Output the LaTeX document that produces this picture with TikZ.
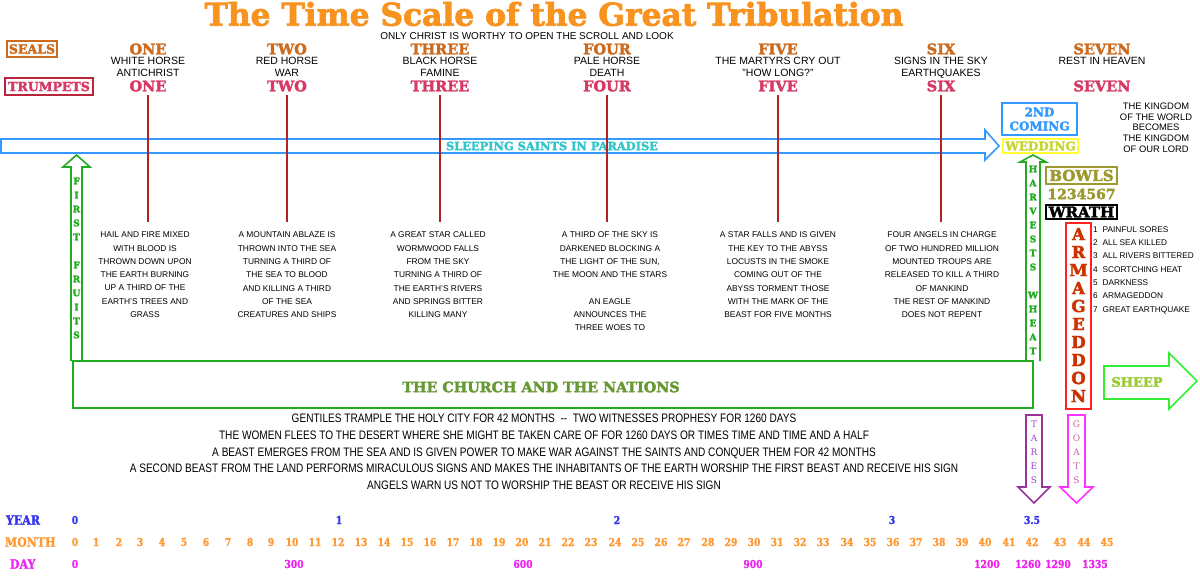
\documentclass[tikz,border=0pt]{standalone}
\usepackage{fontspec}
\setmainfont{Liberation Sans}
\newfontfamily\slabfont{DejaVu Serif Bold}[FakeBold=2.5]
\newfontfamily\slablight{DejaVu Serif}
\newfontfamily\condslab{DejaVu Serif Bold}[FakeStretch=0.85, FakeBold=1.5]
\newfontfamily\narrowfont{Liberation Sans}[FakeStretch=0.82]

\definecolor{titleorange}{HTML}{F7931E}
\definecolor{sealbrown}{HTML}{CC6A1E}
\definecolor{trumpred}{HTML}{D63964}
\definecolor{trumpbox}{HTML}{B8263C}
\definecolor{linered}{HTML}{B22222}
\definecolor{saintsblue}{HTML}{3399FF}
\definecolor{saintstext}{HTML}{33C4CC}
\definecolor{fruitgreen}{HTML}{22AA22}
\definecolor{churchtext}{HTML}{669933}
\definecolor{weddingyellow}{HTML}{FFFF33}
\definecolor{weddingtext}{HTML}{C6D62E}
\definecolor{bowlolive}{HTML}{9C9A2E}
\definecolor{armared}{HTML}{FF2222}
\definecolor{armatext}{HTML}{CC3300}
\definecolor{sheepgreen}{HTML}{33EE33}
\definecolor{sheeptext}{HTML}{99CC33}
\definecolor{taresviolet}{HTML}{993399}
\definecolor{taresletter}{HTML}{9944CC}
\definecolor{goatsmagenta}{HTML}{FF33FF}
\definecolor{goatsletter}{HTML}{CC6699}
\definecolor{yearblue}{HTML}{3333EE}
\definecolor{monthorange}{HTML}{FF9933}
\definecolor{daymagenta}{HTML}{EE22EE}

\tikzset{
  every node/.style={inner sep=0pt, outer sep=0pt},
  slab/.style={font=\slabfont\fontsize{#1}{#1}\selectfont},
  titletext/.style={slab=31.3, text=titleorange},
  sealnum/.style={slab=14.5, text=sealbrown},
  trumpnum/.style={slab=14.5, text=trumpred},
  labelbox/.style={slab=12.5, draw, line width=1.5pt},
  horsetext/.style={font=\fontsize{10.5}{12}\selectfont, align=center, anchor=north},
  woetext/.style={font=\fontsize{8.4}{13.3}\selectfont, align=center, anchor=north},
  redline/.style={draw=linered, line width=1.5pt},
  blockarrow/.style={line width=1.6pt, line join=miter},
  upletter/.style={font=\slabfont\fontsize{9}{9}\selectfont, text=fruitgreen},
  downletter/.style={font=\slablight\fontsize{9}{9}\selectfont},
  armaletter/.style={slab=16.5, text=armatext},
  listtext/.style={font=\fontsize{8.3}{13.3}\selectfont, align=left, anchor=north west},
  beasttext/.style={font=\narrowfont\fontsize{12.3}{16.7}\selectfont, align=center},
  timelabel/.style={font=\condslab\fontsize{13}{13}\selectfont, anchor=west},
  timenum/.style={font=\condslab\fontsize{10.8}{10.8}\selectfont}
}

\begin{document}
\begin{tikzpicture}[x=1pt,y=-1pt]
  \useasboundingbox (0,0) rectangle (1200,576);

  \node[titletext] (title) at (554,14) {The Time Scale of the Great Tribulation};
  \node[font=\fontsize{10}{10}\selectfont] (scroll) at (527,36.5) {ONLY CHRIST IS WORTHY TO OPEN THE SCROLL AND LOOK};

  \node[labelbox, draw=sealbrown, text=sealbrown, minimum width=50pt, minimum height=16pt] (seals) at (32,49) {SEALS};
  \node[labelbox, draw=trumpbox, text=trumpred, minimum width=88pt, minimum height=17pt] (trumpets) at (49,86.5) {TRUMPETS};

  % sleeping saints
  \draw[blockarrow, draw=saintsblue] (1,139) -- (985,139) -- (985,130) -- (999,146)
    -- (985,160) -- (985,153) -- (1,153) -- cycle;
  \node[slab=11.4, text=saintstext] (saints) at (552,146) {SLEEPING SAINTS IN PARADISE};

  % seals and trumpets one to six
  \foreach \x/\num/\desc [count=\i] in {148/ONE/{WHITE HORSE\\ANTICHRIST},
      287/TWO/{RED HORSE\\WAR}, 440/THREE/{BLACK HORSE\\FAMINE},
      607/FOUR/{PALE HORSE\\DEATH}, 778/FIVE/{THE MARTYRS CRY OUT\\"HOW LONG?"},
      941/SIX/{SIGNS IN THE SKY\\EARTHQUAKES}} {
    \node[sealnum] (seal\i) at (\x,49) {\num};
    \node[horsetext] (horse\i) at (\x,57.5) {\desc};
    \node[trumpnum] (trump\i) at (\x,86) {\num};
    \coordinate (foot\i) at (\x,222);
    \draw[redline] ([yshift=-4pt]trump\i.south) -- (foot\i);
  }
  \node[sealnum] (seal7) at (1102,49) {SEVEN};
  \node[horsetext] (horse7) at (1102,57.5) {REST IN HEAVEN};
  \node[trumpnum] (trump7) at (1102,86) {SEVEN};

  % what the trumpets bring
  \node[woetext] (woe1) at (145,232) {HAIL AND FIRE MIXED\\WITH BLOOD IS\\THROWN DOWN UPON\\THE EARTH BURNING\\UP A THIRD OF THE\\EARTH'S TREES AND\\GRASS};
  \node[woetext] (woe2) at (287,232) {A MOUNTAIN ABLAZE IS\\THROWN INTO THE SEA\\TURNING A THIRD OF\\THE SEA TO BLOOD\\AND KILLING A THIRD\\OF THE SEA\\CREATURES AND SHIPS};
  \node[woetext] (woe3) at (438,232) {A GREAT STAR CALLED\\WORMWOOD FALLS\\FROM THE SKY\\TURNING A THIRD OF\\THE EARTH'S RIVERS\\AND SPRINGS BITTER\\KILLING MANY};
  \node[woetext] (woe4) at (610,232) {A THIRD OF THE SKY IS\\DARKENED BLOCKING A\\THE LIGHT OF THE SUN,\\THE MOON AND THE STARS\\[13.3pt]AN EAGLE\\ANNOUNCES THE\\THREE WOES TO};
  \node[woetext] (woe5) at (778,232) {A STAR FALLS AND IS GIVEN\\THE KEY TO THE ABYSS\\LOCUSTS IN THE SMOKE\\COMING OUT OF THE\\ABYSS TORMENT THOSE\\WITH THE MARK OF THE\\BEAST FOR FIVE MONTHS};
  \node[woetext] (woe6) at (942,232) {FOUR ANGELS IN CHARGE\\OF TWO HUNDRED MILLION\\MOUNTED TROUPS ARE\\RELEASED TO KILL A THIRD\\OF MANKIND\\THE REST OF MANKIND\\DOES NOT REPENT};

  % second coming
  \node[slab=12, text=saintsblue, draw=saintsblue, line width=1.5pt, align=center,
    minimum width=75pt, minimum height=32pt] (coming) at (1039.5,119) {2ND\\[2pt]COMING};
  \node[slab=12, text=weddingtext, draw=weddingyellow, line width=1.5pt,
    minimum width=75pt, minimum height=14pt] (wedding) at (1040.5,146) {WEDDING};
  \node[font=\fontsize{9.4}{10.7}\selectfont, align=center] (kingdom) at (1156,127.5)
    {THE KINGDOM\\OF THE WORLD\\BECOMES\\THE KINGDOM\\OF OUR LORD};

  % bowls of wrath
  \node[slab=15, text=bowlolive, draw=bowlolive, line width=1.5pt,
    minimum width=71pt, minimum height=17pt] (bowls) at (1081.5,175.5) {BOWLS};
  \node[slab=14, text=bowlolive] (bowlnums) at (1081.5,194) {1234567};
  \node[slab=15, draw, line width=1.5pt, minimum width=71pt, minimum height=14pt] (wrath) at (1081.5,212) {WRATH};
  \node[listtext] (bowllist) at (1093,226.5) {1\hspace{5pt}PAINFUL SORES\\2\hspace{5pt}ALL SEA KILLED\\3\hspace{5pt}ALL RIVERS BITTERED\\4\hspace{5pt}SCORTCHING HEAT\\5\hspace{5pt}DARKNESS\\6\hspace{5pt}ARMAGEDDON\\7\hspace{5pt}GREAT EARTHQUAKE};

  \node[draw=armared, line width=1.5pt, minimum width=25pt, minimum height=186pt] (armageddon) at (1078.5,316) {};
  \foreach \ch [count=\i from 0] in {A,R,M,A,G,E,D,D,O,N}
    \node[armaletter] (arma\i) at (1078.5,234+18*\i) {\ch};

  % church and harvest
  \node[draw=fruitgreen, line width=2pt, minimum width=960pt, minimum height=47pt] (church) at (553,384.5) {};
  \node[slab=14.3, text=churchtext] (churchname) at (541,387) {THE CHURCH AND THE NATIONS};

  \draw[blockarrow, draw=fruitgreen] (71,361) -- (71,167) -- (63,167) -- (76.5,155)
    -- (90,167) -- (82,167) -- (82,361);
  \foreach \ch [count=\i from 0] in {F,I,R,S,T,{},F,R,U,I,T,S}
    \node[upletter] (fruit\i) at (76.5,181+14*\i) {\ch};

  \draw[blockarrow, draw=fruitgreen] (1026,361) -- (1026,162) -- (1020,162) -- (1033,155)
    -- (1046,162) -- (1040,162) -- (1040,361);
  \foreach \ch [count=\i from 0] in {H,A,R,V,E,S,T,S,{},W,H,E,A,T}
    \node[upletter] (harvest\i) at (1033,169+14*\i) {\ch};

  % sheep and goats
  \draw[blockarrow, draw=sheepgreen] (1104,366) -- (1169,366) -- (1169,353) -- (1197,381)
    -- (1169,409) -- (1169,399) -- (1104,399) -- cycle;
  \node[slab=13, text=sheeptext] (sheep) at (1137,382) {SHEEP};

  \draw[blockarrow, draw=taresviolet] (1026,415) -- (1042,415) -- (1042,487) -- (1050,487)
    -- (1034,503) -- (1018,487) -- (1026,487) -- cycle;
  \foreach \ch [count=\i from 0] in {T,A,R,E,S}
    \node[downletter, text=taresletter] (tares\i) at (1034,424+14*\i) {\ch};

  \draw[blockarrow, draw=goatsmagenta] (1068,415) -- (1085,415) -- (1085,487) -- (1093,487)
    -- (1076.5,503) -- (1060,487) -- (1068,487) -- cycle;
  \foreach \ch [count=\i from 0] in {G,O,A,T,S}
    \node[downletter, text=goatsletter] (goats\i) at (1076.5,424+14*\i) {\ch};

  % the beasts
  \node[beasttext] (beasts) at (544,452) {GENTILES TRAMPLE THE HOLY CITY FOR 42 MONTHS\ \ -{}-\ \ TWO WITNESSES PROPHESY FOR 1260 DAYS\\
    THE WOMEN FLEES TO THE DESERT WHERE SHE MIGHT BE TAKEN CARE OF FOR 1260 DAYS OR TIMES TIME AND TIME AND A HALF\\
    A BEAST EMERGES FROM THE SEA AND IS GIVEN POWER TO MAKE WAR AGAINST THE SAINTS AND CONQUER THEM FOR 42 MONTHS\\
    A SECOND BEAST FROM THE LAND PERFORMS MIRACULOUS SIGNS AND MAKES THE INHABITANTS OF THE EARTH WORSHIP THE FIRST BEAST AND RECEIVE HIS SIGN\\
    ANGELS WARN US NOT TO WORSHIP THE BEAST OR RECEIVE HIS SIGN};

  % time scale
  \node[timelabel, text=yearblue] (year) at (6,520) {YEAR};
  \node[timelabel, text=monthorange] (month) at (5,542) {MONTH};
  \node[timelabel, text=daymagenta] (day) at (10,564) {DAY};
  \foreach \x/\v [count=\i] in {75/0, 339/1, 617/2, 892/3, 1032/3.5}
    \node[timenum, text=yearblue] (yr\i) at (\x,520) {\v};
  \foreach \x [count=\m from 0] in {75,96,119,140,162,184,206,228,250,271,292,315,338,361,
      384,407,430,453,476,499,522,545,568,591,615,638,661,684,708,731,754,777,800,823,
      847,870,893,916,939,962,985,1009,1032,1060,1084,1107}
    \node[timenum, text=monthorange] (mo\m) at (\x,542) {\m};
  \foreach \x/\v [count=\i] in {75/0, 294/300, 523/600, 753/900, 987/1200, 1028/1260, 1058/1290, 1095/1335}
    \node[timenum, text=daymagenta] (dy\i) at (\x,564) {\v};
\end{tikzpicture}
\end{document}
